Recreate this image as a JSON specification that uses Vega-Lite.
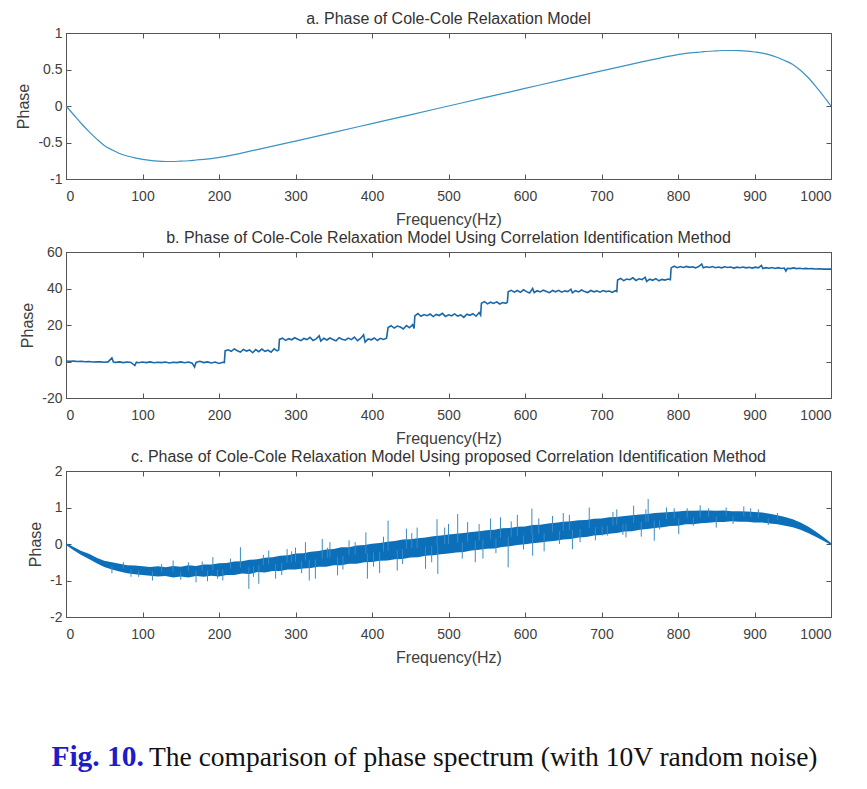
{
"$schema": "https://vega.github.io/schema/vega-lite/v6.json",
"padding": {"left": 15, "top": 10, "right": 5, "bottom": 5},
"background": "white",
"config": {
  "font": "Liberation Sans",
  "locale": {"number": {"decimal": ".", "thousands": ",", "grouping": [3], "currency": ["$", ""], "minus": "-"}},
  "view": {"stroke": "#555555", "strokeWidth": 1},
  "axis": {"labelFont": "Liberation Sans", "labelFontSize": 14, "labelColor": "#404040", "titleFont": "Liberation Sans", "titleFontSize": 16, "titleFontWeight": "normal", "titleColor": "#404040", "domainColor": "#555555", "tickColor": "#555555", "tickSize": -5, "grid": false, "format": "~r"},
  "axisX": {"labelPadding": 15, "titlePadding": 8},
  "axisY": {"labelPadding": 9, "titlePadding": 6},
  "title": {"font": "Liberation Sans", "fontSize": 16, "fontWeight": "normal", "color": "#333333", "anchor": "middle", "offset": -1, "frame": "group"},
  "concat": {"spacing": 1}
},
"vconcat": [
  {
    "width": 765, "height": 146,
    "title": "a. Phase of Cole-Cole Relaxation Model",
    "data": {"values": [
      {"f":0,"p":0},{"f":10,"p":-0.12},{"f":20,"p":-0.24},{"f":30,"p":-0.35},{"f":40,"p":-0.45},{"f":50,"p":-0.54},{"f":60,"p":-0.6},{"f":70,"p":-0.65},{"f":80,"p":-0.685},{"f":90,"p":-0.71},{"f":100,"p":-0.73},{"f":110,"p":-0.745},{"f":120,"p":-0.755},{"f":130,"p":-0.76},{"f":140,"p":-0.76},{"f":150,"p":-0.755},{"f":160,"p":-0.75},{"f":170,"p":-0.74},{"f":180,"p":-0.73},{"f":190,"p":-0.72},{"f":200,"p":-0.705},{"f":250,"p":-0.597},{"f":300,"p":-0.48},{"f":350,"p":-0.361},{"f":400,"p":-0.241},{"f":450,"p":-0.121},{"f":500,"p":0},{"f":550,"p":0.121},{"f":600,"p":0.241},{"f":650,"p":0.361},{"f":700,"p":0.48},{"f":750,"p":0.597},{"f":800,"p":0.705},{"f":810,"p":0.72},{"f":820,"p":0.73},{"f":830,"p":0.74},{"f":840,"p":0.75},{"f":850,"p":0.755},{"f":860,"p":0.76},{"f":870,"p":0.76},{"f":880,"p":0.758},{"f":890,"p":0.752},{"f":900,"p":0.74},{"f":910,"p":0.725},{"f":920,"p":0.7},{"f":930,"p":0.665},{"f":940,"p":0.62},{"f":950,"p":0.57},{"f":960,"p":0.49},{"f":970,"p":0.39},{"f":980,"p":0.27},{"f":990,"p":0.14},{"f":1000,"p":0}
    ]},
    "layer": [
      {"mark": {"type": "line", "color": "#3a93c3", "strokeWidth": 1.2, "interpolate": "monotone"},
       "encoding": {
        "x": {"field": "f", "type": "quantitative", "scale": {"domain": [0, 1000], "nice": false}, "axis": {"title": "Frequency(Hz)", "values": [0,100,200,300,400,500,600,700,800,900,1000]}},
        "y": {"field": "p", "type": "quantitative", "scale": {"domain": [-1, 1], "nice": false}, "axis": {"title": "Phase", "values": [-1,-0.5,0,0.5,1]}}
       }},
      {"data": {"values": [{}]},
       "mark": {"type": "point", "opacity": 0},
       "encoding": {
        "x": {"datum": 0, "type": "quantitative", "axis": {"orient": "top", "labels": false, "title": null, "values": [0,100,200,300,400,500,600,700,800,900,1000]}},
        "y": {"datum": 0, "type": "quantitative", "axis": {"orient": "right", "labels": false, "title": null, "values": [-1,-0.5,0,0.5,1]}}
       }}
    ],
    "resolve": {"axis": {"x": "independent", "y": "independent"}}
  },
  {
    "width": 765, "height": 146,
    "title": "b. Phase of Cole-Cole Relaxation Model Using Correlation Identification Method",
    "data": {"values": [
      {"f":0,"p":0.3},{"f":5,"p":0.1},{"f":10,"p":0.2},{"f":15,"p":0},{"f":20,"p":0.1},{"f":25,"p":-0.1},{"f":30,"p":0},{"f":35,"p":-0.3},{"f":40,"p":-0.1},{"f":45,"p":-0.2},{"f":50,"p":-0.4},{"f":55,"p":-0.2},{"f":60,"p":1.9},{"f":62,"p":-0.3},{"f":65,"p":-0.5},{"f":70,"p":-0.2},{"f":75,"p":-0.6},{"f":80,"p":-0.3},{"f":85,"p":-0.5},{"f":90,"p":-2.2},{"f":92,"p":-0.4},{"f":95,"p":-0.7},{"f":100,"p":-0.3},{"f":105,"p":-0.6},{"f":110,"p":-0.2},{"f":115,"p":-0.7},{"f":120,"p":-0.4},{"f":125,"p":-0.6},{"f":130,"p":-0.3},{"f":135,"p":-0.8},{"f":140,"p":-0.4},{"f":145,"p":-0.6},{"f":150,"p":-0.2},{"f":155,"p":-0.7},{"f":160,"p":-0.3},{"f":165,"p":-0.9},{"f":168,"p":-3},{"f":170,"p":-0.5},{"f":175,"p":0.1},{"f":180,"p":-0.6},{"f":185,"p":-0.2},{"f":190,"p":-0.8},{"f":195,"p":-0.3},{"f":200,"p":-1.1},{"f":205,"p":-0.4},{"f":207,"p":-0.6},
      {"f":208,"p":5.8},{"f":212,"p":6.4},{"f":216,"p":5.6},{"f":220,"p":6.9},{"f":224,"p":5.9},{"f":228,"p":5.2},{"f":232,"p":6.6},{"f":236,"p":5.7},{"f":240,"p":6.3},{"f":244,"p":4.8},{"f":248,"p":6.5},{"f":252,"p":5.4},{"f":256,"p":6.8},{"f":260,"p":5.6},{"f":264,"p":6.2},{"f":268,"p":5.1},{"f":272,"p":6.9},{"f":276,"p":5.8},{"f":278,"p":6.3},
      {"f":279,"p":12.1},{"f":283,"p":12.8},{"f":287,"p":11.6},{"f":291,"p":12.5},{"f":295,"p":11.9},{"f":299,"p":13},{"f":303,"p":12.2},{"f":307,"p":11.4},{"f":311,"p":12.6},{"f":315,"p":12},{"f":319,"p":13.2},{"f":323,"p":11.5},{"f":327,"p":12.4},{"f":331,"p":14.1},{"f":333,"p":11.2},{"f":337,"p":12.7},{"f":341,"p":11.8},{"f":345,"p":12.9},{"f":349,"p":12.1},{"f":353,"p":11.3},{"f":357,"p":13},{"f":361,"p":12.2},{"f":365,"p":11.7},{"f":369,"p":12.8},{"f":373,"p":12},{"f":377,"p":13.4},{"f":381,"p":11.4},{"f":385,"p":12.6},{"f":389,"p":14.6},{"f":391,"p":10.6},{"f":395,"p":12.4},{"f":399,"p":11.9},{"f":403,"p":12.9},{"f":407,"p":11.5},{"f":411,"p":12.7},{"f":415,"p":12.1},{"f":419,"p":12.8},
      {"f":421,"p":18.6},{"f":425,"p":19.6},{"f":429,"p":18.3},{"f":433,"p":19.4},{"f":437,"p":18.9},{"f":441,"p":17.8},{"f":445,"p":19.7},{"f":449,"p":18.5},{"f":453,"p":20.2},{"f":455,"p":18.1},
      {"f":456,"p":25},{"f":460,"p":26.3},{"f":464,"p":24.8},{"f":468,"p":25.7},{"f":472,"p":25.1},{"f":476,"p":26},{"f":480,"p":24.6},{"f":484,"p":25.8},{"f":488,"p":25.2},{"f":492,"p":26.4},{"f":496,"p":24.7},{"f":500,"p":25.6},{"f":504,"p":25},{"f":508,"p":26.1},{"f":512,"p":24.9},{"f":516,"p":25.5},{"f":520,"p":24.2},{"f":524,"p":25.9},{"f":528,"p":25.3},{"f":532,"p":26.2},{"f":536,"p":24.8},{"f":540,"p":26.8},{"f":542,"p":25.4},
      {"f":543,"p":31.9},{"f":547,"p":32.8},{"f":551,"p":31.6},{"f":555,"p":32.5},{"f":559,"p":31.8},{"f":563,"p":32.7},{"f":567,"p":31.5},{"f":571,"p":32.3},{"f":575,"p":31.9},{"f":577,"p":32.6},
      {"f":578,"p":38.2},{"f":582,"p":39},{"f":586,"p":38},{"f":590,"p":38.9},{"f":594,"p":37.9},{"f":598,"p":39.3},{"f":602,"p":38.3},{"f":606,"p":37.5},{"f":610,"p":40},{"f":612,"p":37.8},{"f":616,"p":38.8},{"f":620,"p":38.1},{"f":624,"p":39.1},{"f":628,"p":38.4},{"f":632,"p":37.7},{"f":636,"p":38.9},{"f":640,"p":38.2},{"f":644,"p":39},{"f":648,"p":38},{"f":652,"p":38.7},{"f":656,"p":38.3},{"f":660,"p":39.6},{"f":662,"p":37.6},{"f":666,"p":38.8},{"f":670,"p":38.1},{"f":674,"p":39.2},{"f":678,"p":38.3},{"f":682,"p":37.8},{"f":686,"p":38.9},{"f":690,"p":38.2},{"f":694,"p":38.7},{"f":698,"p":38},{"f":702,"p":38.9},{"f":706,"p":38.3},{"f":710,"p":38.6},{"f":714,"p":37.9},{"f":718,"p":38.8},{"f":720,"p":38.4},
      {"f":721,"p":44.6},{"f":725,"p":45.5},{"f":729,"p":44.3},{"f":733,"p":45.2},{"f":737,"p":44.8},{"f":741,"p":45.9},{"f":745,"p":44.4},{"f":749,"p":45.3},{"f":753,"p":44.9},{"f":757,"p":46.2},{"f":759,"p":43.9},{"f":763,"p":45.1},{"f":767,"p":44.5},{"f":771,"p":45.4},{"f":775,"p":44.2},{"f":779,"p":45},{"f":783,"p":44.6},{"f":787,"p":45.2},{"f":790,"p":44.8},
      {"f":791,"p":51.3},{"f":795,"p":52.2},{"f":799,"p":51.4},{"f":803,"p":52},{"f":807,"p":51.5},{"f":811,"p":52.1},{"f":815,"p":51.6},{"f":819,"p":51.9},{"f":823,"p":51.3},{"f":827,"p":52},{"f":831,"p":53.4},{"f":833,"p":51.4},{"f":837,"p":51.9},{"f":841,"p":51.5},{"f":845,"p":52},{"f":849,"p":51.4},{"f":853,"p":51.8},{"f":857,"p":51.3},{"f":861,"p":51.9},{"f":865,"p":51.5},{"f":869,"p":51.8},{"f":873,"p":51.2},{"f":877,"p":51.7},{"f":881,"p":51.4},{"f":885,"p":51.8},{"f":889,"p":51.3},{"f":893,"p":51.6},{"f":897,"p":51.2},{"f":901,"p":51.7},{"f":905,"p":51.3},{"f":909,"p":52.6},{"f":911,"p":50.9},{"f":915,"p":51.4},{"f":919,"p":51.1},{"f":923,"p":51.5},{"f":927,"p":51},{"f":931,"p":51.4},{"f":935,"p":51},{"f":939,"p":51.2},{"f":941,"p":49.6},{"f":943,"p":51.1},{"f":947,"p":50.9},{"f":951,"p":51.3},{"f":955,"p":50.9},{"f":959,"p":51.1},{"f":963,"p":50.8},{"f":967,"p":51},{"f":971,"p":50.8},{"f":975,"p":50.9},{"f":980,"p":50.7},{"f":985,"p":50.8},{"f":990,"p":50.6},{"f":995,"p":50.7},{"f":1000,"p":50.6}
    ]},
    "layer": [
      {"mark": {"type": "line", "color": "#1a68a8", "strokeWidth": 1.6},
       "encoding": {
        "x": {"field": "f", "type": "quantitative", "scale": {"domain": [0, 1000], "nice": false}, "axis": {"title": "Frequency(Hz)", "values": [0,100,200,300,400,500,600,700,800,900,1000]}},
        "y": {"field": "p", "type": "quantitative", "scale": {"domain": [-20, 60], "nice": false}, "axis": {"title": "Phase", "values": [-20,0,20,40,60]}}
       }},
      {"data": {"values": [{}]},
       "mark": {"type": "point", "opacity": 0},
       "encoding": {
        "x": {"datum": 0, "type": "quantitative", "axis": {"orient": "top", "labels": false, "title": null, "values": [0,100,200,300,400,500,600,700,800,900,1000]}},
        "y": {"datum": 0, "type": "quantitative", "axis": {"orient": "right", "labels": false, "title": null, "values": [-20,0,20,40,60]}}
       }}
    ],
    "resolve": {"axis": {"x": "independent", "y": "independent"}}
  },
  {
    "width": 765, "height": 146,
    "title": "c. Phase of Cole-Cole Relaxation Model Using proposed Correlation Identification Method",
    "layer": [
      {"data": {"values": [
        {"f":0,"lo":-0.03,"hi":0.03},{"f":10,"lo":-0.17,"hi":-0.08},{"f":20,"lo":-0.3,"hi":-0.19},{"f":30,"lo":-0.41,"hi":-0.27},{"f":40,"lo":-0.53,"hi":-0.38},{"f":50,"lo":-0.63,"hi":-0.46},{"f":60,"lo":-0.7,"hi":-0.5},{"f":70,"lo":-0.75,"hi":-0.54},{"f":80,"lo":-0.8,"hi":-0.58},{"f":90,"lo":-0.83,"hi":-0.59},{"f":100,"lo":-0.85,"hi":-0.61},{"f":110,"lo":-0.87,"hi":-0.63},{"f":120,"lo":-0.89,"hi":-0.61},{"f":130,"lo":-0.88,"hi":-0.64},{"f":140,"lo":-0.92,"hi":-0.6},{"f":150,"lo":-0.89,"hi":-0.62},{"f":160,"lo":-0.92,"hi":-0.58},{"f":170,"lo":-0.88,"hi":-0.6},{"f":180,"lo":-0.9,"hi":-0.56},{"f":190,"lo":-0.87,"hi":-0.56},{"f":200,"lo":-0.89,"hi":-0.53},{"f":210,"lo":-0.85,"hi":-0.52},{"f":220,"lo":-0.85,"hi":-0.48},{"f":230,"lo":-0.81,"hi":-0.47},{"f":240,"lo":-0.82,"hi":-0.43},{"f":250,"lo":-0.77,"hi":-0.42},{"f":260,"lo":-0.78,"hi":-0.38},{"f":270,"lo":-0.74,"hi":-0.36},{"f":280,"lo":-0.74,"hi":-0.32},{"f":290,"lo":-0.7,"hi":-0.31},{"f":300,"lo":-0.7,"hi":-0.26},{"f":310,"lo":-0.67,"hi":-0.25},{"f":320,"lo":-0.66,"hi":-0.21},{"f":330,"lo":-0.62,"hi":-0.19},{"f":340,"lo":-0.62,"hi":-0.15},{"f":350,"lo":-0.58,"hi":-0.14},{"f":360,"lo":-0.58,"hi":-0.09},{"f":370,"lo":-0.54,"hi":-0.09},{"f":380,"lo":-0.54,"hi":-0.04},{"f":390,"lo":-0.5,"hi":-0.03},{"f":400,"lo":-0.49,"hi":0.01},{"f":410,"lo":-0.46,"hi":0.03},{"f":420,"lo":-0.45,"hi":0.06},{"f":430,"lo":-0.42,"hi":0.08},{"f":440,"lo":-0.41,"hi":0.12},{"f":450,"lo":-0.37,"hi":0.13},{"f":460,"lo":-0.36,"hi":0.16},{"f":470,"lo":-0.32,"hi":0.18},{"f":480,"lo":-0.31,"hi":0.21},{"f":490,"lo":-0.28,"hi":0.23},{"f":500,"lo":-0.26,"hi":0.26},{"f":510,"lo":-0.23,"hi":0.28},{"f":520,"lo":-0.22,"hi":0.3},{"f":530,"lo":-0.18,"hi":0.33},{"f":540,"lo":-0.16,"hi":0.35},{"f":550,"lo":-0.13,"hi":0.38},{"f":560,"lo":-0.12,"hi":0.39},{"f":570,"lo":-0.08,"hi":0.43},{"f":580,"lo":-0.06,"hi":0.44},{"f":590,"lo":-0.03,"hi":0.47},{"f":600,"lo":-0.01,"hi":0.48},{"f":610,"lo":0.02,"hi":0.52},{"f":620,"lo":0.04,"hi":0.53},{"f":630,"lo":0.07,"hi":0.56},{"f":640,"lo":0.09,"hi":0.58},{"f":650,"lo":0.12,"hi":0.61},{"f":660,"lo":0.14,"hi":0.62},{"f":670,"lo":0.18,"hi":0.65},{"f":680,"lo":0.19,"hi":0.66},{"f":690,"lo":0.23,"hi":0.69},{"f":700,"lo":0.25,"hi":0.7},{"f":710,"lo":0.28,"hi":0.73},{"f":720,"lo":0.3,"hi":0.74},{"f":730,"lo":0.34,"hi":0.77},{"f":740,"lo":0.35,"hi":0.79},{"f":750,"lo":0.39,"hi":0.81},{"f":760,"lo":0.41,"hi":0.82},{"f":770,"lo":0.44,"hi":0.85},{"f":780,"lo":0.46,"hi":0.86},{"f":790,"lo":0.49,"hi":0.88},{"f":800,"lo":0.5,"hi":0.89},{"f":810,"lo":0.54,"hi":0.91},{"f":820,"lo":0.54,"hi":0.91},{"f":830,"lo":0.57,"hi":0.92},{"f":840,"lo":0.58,"hi":0.92},{"f":850,"lo":0.6,"hi":0.91},{"f":860,"lo":0.6,"hi":0.92},{"f":870,"lo":0.62,"hi":0.9},{"f":880,"lo":0.61,"hi":0.9},{"f":890,"lo":0.61,"hi":0.89},{"f":900,"lo":0.59,"hi":0.88},{"f":910,"lo":0.59,"hi":0.86},{"f":920,"lo":0.56,"hi":0.83},{"f":930,"lo":0.54,"hi":0.79},{"f":940,"lo":0.5,"hi":0.74},{"f":950,"lo":0.46,"hi":0.68},{"f":960,"lo":0.39,"hi":0.59},{"f":970,"lo":0.3,"hi":0.48},{"f":980,"lo":0.2,"hi":0.34},{"f":990,"lo":0.09,"hi":0.19},{"f":1000,"lo":-0.03,"hi":0.03}
       ]},
       "mark": {"type": "area", "color": "#0b6fba", "opacity": 1},
       "encoding": {
        "x": {"field": "f", "type": "quantitative", "scale": {"domain": [0, 1000], "nice": false}, "axis": {"title": "Frequency(Hz)", "values": [0,100,200,300,400,500,600,700,800,900,1000]}},
        "y": {"field": "lo", "type": "quantitative", "scale": {"domain": [-2, 2], "nice": false}, "axis": {"title": "Phase", "values": [-2,-1,0,1,2]}},
        "y2": {"field": "hi"}
       }},
      {"data": {"values": [
        {"f":60,"a":-0.6,"b":-0.8},{"f":75,"a":-0.67,"b":-0.5},{"f":85,"a":-0.7,"b":-0.9},{"f":95,"a":-0.72,"b":-0.9},{"f":113,"a":-0.75,"b":-1.0},{"f":125,"a":-0.76,"b":-0.55},{"f":140,"a":-0.76,"b":-0.45},{"f":150,"a":-0.755,"b":-0.98},{"f":160,"a":-0.75,"b":-0.5},{"f":170,"a":-0.74,"b":-1.05},{"f":178,"a":-0.73,"b":-0.48},{"f":185,"a":-0.725,"b":-1.02},{"f":192,"a":-0.72,"b":-0.36},{"f":198,"a":-0.71,"b":-0.95},{"f":205,"a":-0.7,"b":-1.0},{"f":215,"a":-0.675,"b":-0.4},{"f":228,"a":-0.65,"b":-0.09},{"f":239,"a":-0.625,"b":-1.23},{"f":245,"a":-0.61,"b":-0.9},{"f":252,"a":-0.59,"b":-1.09},{"f":258,"a":-0.58,"b":-0.3},{"f":265,"a":-0.56,"b":-0.18},{"f":274,"a":-0.54,"b":-0.95},{"f":282,"a":-0.525,"b":-0.85},{"f":289,"a":-0.51,"b":-0.14},{"f":295,"a":-0.49,"b":-0.2},{"f":300,"a":-0.48,"b":-0.1},{"f":308,"a":-0.46,"b":-0.8},{"f":313,"a":-0.45,"b":0.05},{"f":318,"a":-0.44,"b":-1.0},{"f":326,"a":-0.42,"b":-0.95},{"f":335,"a":-0.4,"b":0.14},{"f":342,"a":-0.38,"b":-0.1},{"f":345,"a":-0.37,"b":0.05},{"f":355,"a":-0.35,"b":-0.86},{"f":362,"a":-0.33,"b":-0.7},{"f":370,"a":-0.31,"b":0.1},{"f":378,"a":-0.29,"b":0.05},{"f":392,"a":-0.26,"b":0.32},{"f":394,"a":-0.255,"b":-0.95},{"f":402,"a":-0.235,"b":-0.62},{"f":410,"a":-0.22,"b":-0.8},{"f":415,"a":-0.205,"b":0.2},{"f":421,"a":-0.19,"b":0.64},{"f":433,"a":-0.16,"b":-0.73},{"f":440,"a":-0.145,"b":-0.55},{"f":445,"a":-0.13,"b":0.42},{"f":452,"a":-0.115,"b":0.3},{"f":459,"a":-0.1,"b":0.45},{"f":470,"a":-0.07,"b":-0.68},{"f":478,"a":-0.05,"b":-0.5},{"f":485,"a":-0.036,"b":0.68},{"f":486,"a":-0.034,"b":-0.82},{"f":495,"a":-0.012,"b":0.45},{"f":500,"a":0,"b":0.55},{"f":512,"a":0.03,"b":0.82},{"f":518,"a":0.045,"b":-0.4},{"f":525,"a":0.06,"b":0.6},{"f":535,"a":0.085,"b":-0.5},{"f":540,"a":0.097,"b":0.55},{"f":545,"a":0.11,"b":-0.4},{"f":555,"a":0.13,"b":0.7},{"f":562,"a":0.15,"b":-0.25},{"f":568,"a":0.165,"b":0.73},{"f":578,"a":0.19,"b":-0.64},{"f":582,"a":0.2,"b":0.62},{"f":590,"a":0.22,"b":0.8},{"f":598,"a":0.235,"b":-0.15},{"f":609,"a":0.26,"b":0.97},{"f":610,"a":0.26,"b":-0.32},{"f":618,"a":0.285,"b":0.7},{"f":625,"a":0.3,"b":-0.2},{"f":636,"a":0.33,"b":0.77},{"f":645,"a":0.35,"b":0.0},{"f":650,"a":0.36,"b":0.85},{"f":658,"a":0.38,"b":0.8},{"f":662,"a":0.39,"b":-0.14},{"f":672,"a":0.41,"b":0.05},{"f":684,"a":0.44,"b":1.0},{"f":692,"a":0.46,"b":0.1},{"f":701,"a":0.48,"b":0.23},{"f":708,"a":0.5,"b":0.23},{"f":715,"a":0.515,"b":0.88},{"f":720,"a":0.53,"b":0.95},{"f":728,"a":0.545,"b":0.25},{"f":732,"a":0.555,"b":0.18},{"f":742,"a":0.58,"b":1.05},{"f":752,"a":0.6,"b":0.2},{"f":758,"a":0.615,"b":0.95},{"f":761,"a":0.62,"b":1.23},{"f":769,"a":0.64,"b":0.09},{"f":776,"a":0.655,"b":0.4},{"f":785,"a":0.675,"b":1.0},{"f":795,"a":0.695,"b":0.98},{"f":801,"a":0.705,"b":0.27},{"f":812,"a":0.72,"b":0.98},{"f":820,"a":0.73,"b":0.5},{"f":829,"a":0.74,"b":1.06},{"f":840,"a":0.75,"b":0.98},{"f":850,"a":0.755,"b":0.45},{"f":863,"a":0.76,"b":1.0},{"f":872,"a":0.76,"b":0.55},{"f":886,"a":0.755,"b":1.03},{"f":895,"a":0.745,"b":0.98},{"f":905,"a":0.73,"b":0.95},{"f":918,"a":0.705,"b":0.52},{"f":930,"a":0.665,"b":0.85}
       ]},
       "mark": {"type": "rule", "color": "#3b8bc6", "strokeWidth": 1},
       "encoding": {
        "x": {"field": "f", "type": "quantitative", "axis": null},
        "y": {"field": "a", "type": "quantitative", "axis": null},
        "y2": {"field": "b"}
       }},
      {"data": {"values": [{}]},
       "mark": {"type": "point", "opacity": 0},
       "encoding": {
        "x": {"datum": 0, "type": "quantitative", "axis": {"orient": "top", "labels": false, "title": null, "values": [0,100,200,300,400,500,600,700,800,900,1000]}},
        "y": {"datum": 0, "type": "quantitative", "axis": {"orient": "right", "labels": false, "title": null, "values": [-2,-1,0,1,2]}}
       }}
    ],
    "resolve": {"axis": {"x": "independent", "y": "independent"}}
  },
  {
    "width": 162, "height": 198,
    "view": {"stroke": null},
    "data": {"values": [{}]},
    "layer": [
      {"mark": {"type": "text", "text": "Fig. 10.", "align": "right", "baseline": "alphabetic", "dx": -3, "font": "Liberation Serif", "fontSize": 29.5, "fontWeight": "bold", "color": "#1c1cc8"}, "encoding": {}},
      {"mark": {"type": "text", "text": "The comparison of phase spectrum (with 10V random noise)", "align": "left", "baseline": "alphabetic", "dx": 2, "font": "Liberation Serif", "fontSize": 27.5, "color": "#111111"}, "encoding": {}}
    ]
  }
]
}
